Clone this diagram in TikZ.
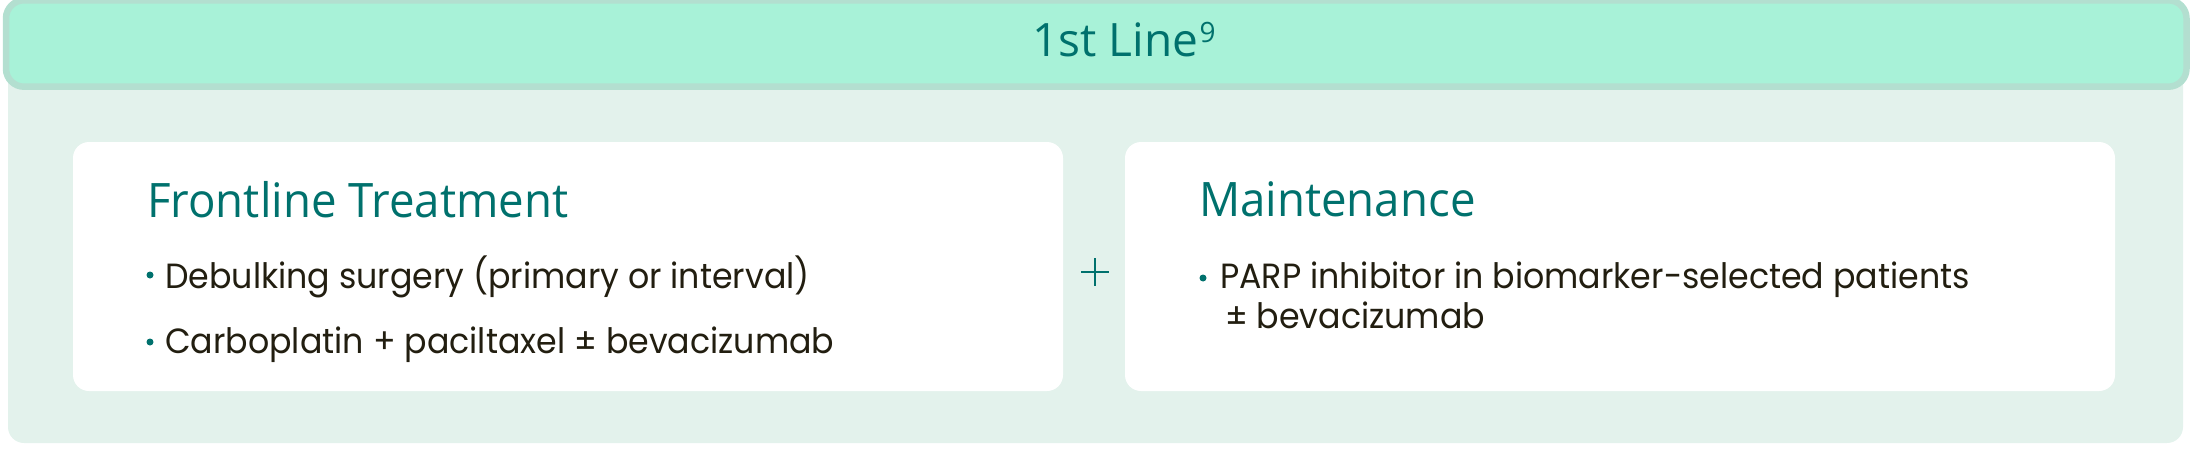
\documentclass[tikz,border=0pt]{standalone}
\usepackage{fontspec}
\setmainfont{Poppins}[FakeStretch=0.95]
\newfontfamily\headfont{Open Sans}[FakeStretch=0.96]
\newfontfamily\hdrfont{Open Sans}
\definecolor{hdrfill}{HTML}{A8F2D8}
\definecolor{hdrline}{HTML}{B3DFD0}
\definecolor{panel}{HTML}{E3F2EC}
\definecolor{teal}{HTML}{00716D}
\definecolor{ink}{HTML}{221E10}
\tikzset{
  boxbg/.style={fill=panel, rounded corners=16pt, inner sep=0pt, outer sep=0pt},
  hdrbox/.style={fill=hdrfill, draw=hdrline, line width=6.5pt, rounded corners=18pt, inner sep=0pt, outer sep=0pt},
  whitebox/.style={fill=white, rounded corners=16pt, inner sep=0pt, outer sep=0pt, minimum width=990pt, minimum height=249pt},
  heading/.style={anchor=base west, inner sep=0pt, text=teal, font=\headfont\fontsize{47.5}{57}\selectfont},
  bodytxt/.style={anchor=base west, inner sep=0pt, text=ink, font=\fontsize{35}{42}\selectfont},
  dot/.style={circle, fill=teal, inner sep=0pt, minimum size=7pt},
  plusbox/.style={inner sep=0pt, minimum size=27pt},
  plusline/.style={draw=teal, line width=2.2pt}
}
\begin{document}
\begin{tikzpicture}[x=1pt,y=-1pt]
\useasboundingbox (0,0) rectangle (2190,466);
\node[boxbg, minimum width=2175pt, minimum height=403pt] (outer) at (1095.5,241.5) {};
\node[hdrbox, minimum width=2180.5pt, minimum height=86.4pt] (hdr) at (1096.25,43.5) {};
\node[heading, font=\hdrfont\fontsize{46}{55}\selectfont] (hdrtxt) at (1032,56) {1st Line\kern1.5pt\raisebox{14pt}{\fontsize{28}{28}\selectfont 9}};
\node[whitebox] (left) at (568,266.5) {};
\node[whitebox] (right) at (1620,266.5) {};
\node[heading] (lhead) at (147,217) {Frontline Treatment};
\node[heading] (rhead) at (1199,216) {Maintenance};
\node[dot] (b1) at (150,275) {};
\node[bodytxt] (t1) at (165,288) {Debulking surgery (primary or interval)};
\node[dot] (b2) at (150,342) {};
\node[bodytxt] (t2) at (165,353) {Carboplatin + paciltaxel ± bevacizumab};
\node[dot] (b3) at (1203,278) {};
\node[bodytxt] (t3) at (1220,288) {PARP inhibitor in biomarker-selected patients};
\node[bodytxt] (t4) at (1225,328) {± bevacizumab};
\node[plusbox] (plus) at (1095,272) {};
\draw[plusline] (plus.north) -- (plus.south);
\draw[plusline] (plus.west) -- (plus.east);
\end{tikzpicture}
\end{document}
